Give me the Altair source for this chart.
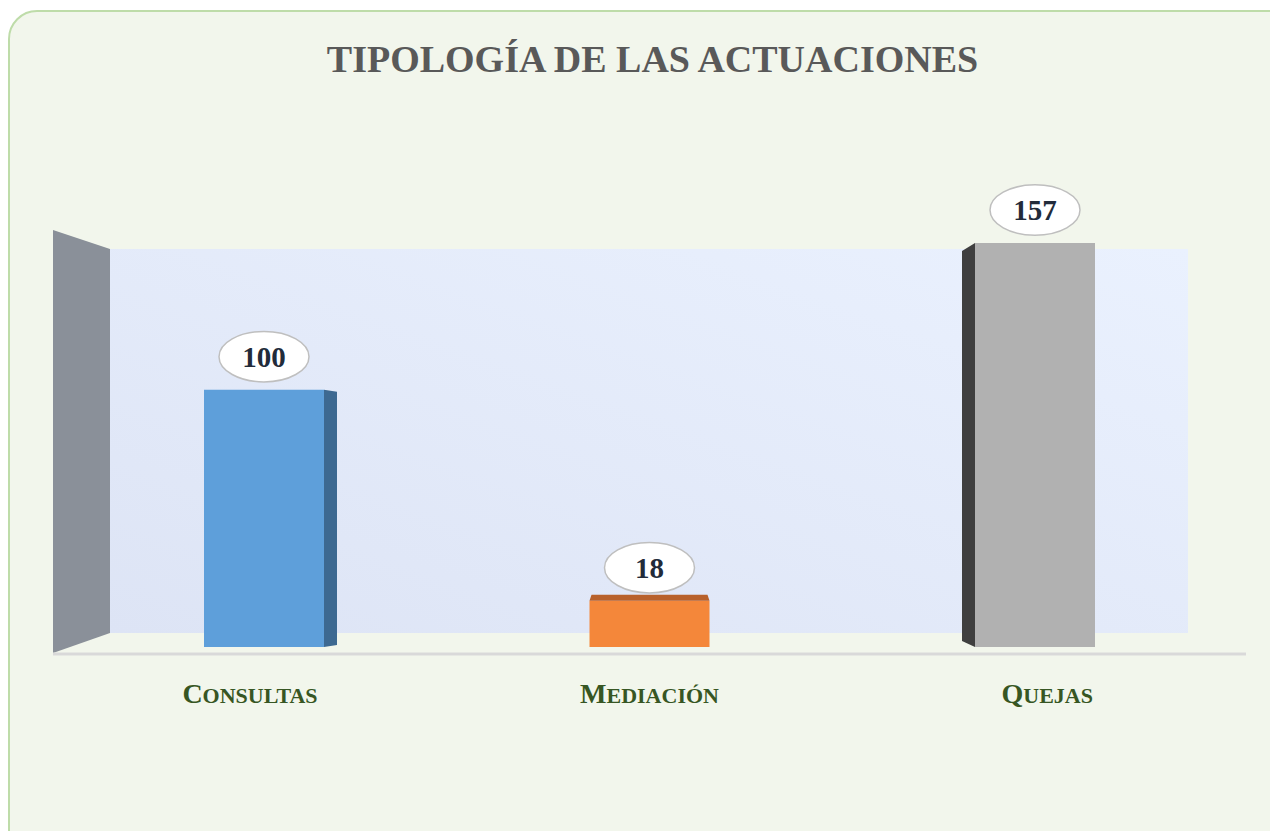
import altair as alt
import pandas as pd

# ---------------- data ----------------
categorias = ["Consultas", "Mediación", "Quejas"]
valores = [100, 18, 157]
color_frente = ["#5E9FDA", "#F4873A", "#B1B1B1"]
color_cara = ["#3D6991", "#B8612B", "#3F3F3F"]
tipo_cara = ["derecha", "superior", "izquierda"]
titulo = "TIPOLOGÍA DE LAS ACTUACIONES"

# ---------------- layout helpers ----------------
W, H = 1262, 823
XU, YU = 385.5, 2.573           # px per x unit / per value unit
X0 = -256 / XU
Y0 = -(H - 639) / YU
xs = alt.Scale(domain=[X0, X0 + W / XU], nice=False, zero=False)
ys = alt.Scale(domain=[Y0, Y0 + H / YU], nice=False, zero=False)


def ux(px):
    return X0 + px / XU


def uy(py):
    return Y0 + (H - py) / YU


HALF = 60 / XU
DEPTH = 13 / XU
SERIF = "Liberation Serif"

# bars
bars = pd.DataFrame({
    "cat": categorias,
    "idx": list(range(len(categorias))),
    "valor": valores,
    "color": color_frente,
})
bars["x0"] = bars["idx"] - HALF
bars["x1"] = bars["idx"] + HALF
bars["base"] = 0.0
bars["ylab"] = bars["valor"] + 33 / YU

# 3D faces of the bars
rows = []
for i, (c, v, col, t) in enumerate(zip(categorias, valores, color_cara, tipo_cara)):
    if t == "derecha":
        rows += [dict(cat=c, color=col, x=i + HALF, y=0.0, y2=v),
                 dict(cat=c, color=col, x=i + HALF + DEPTH, y=2 / YU, y2=v - 2 / YU)]
    elif t == "izquierda":
        rows += [dict(cat=c, color=col, x=i - HALF - DEPTH, y=6 / YU, y2=v - 8 / YU),
                 dict(cat=c, color=col, x=i - HALF, y=0.0, y2=v)]
    else:
        rows += [dict(cat=c, color=col, x=i - HALF, y=v, y2=v),
                 dict(cat=c, color=col, x=i - HALF + 2 / XU, y=v, y2=v + 6 / YU),
                 dict(cat=c, color=col, x=i + HALF - 2 / XU, y=v, y2=v + 6 / YU),
                 dict(cat=c, color=col, x=i + HALF, y=v, y2=v)]
faces = pd.DataFrame(rows)

# left wall
wall = pd.DataFrame({
    "x": [ux(45), ux(102)],
    "y": [uy(645), uy(625)],
    "y2": [uy(222), uy(241)],
})

# category labels in emulated small caps
WID = {"A": .722, "C": .722, "D": .722, "E": .667, "I": .389, "J": .5, "L": .667,
       "M": .944, "N": .722, "O": .778, "Q": .778, "S": .556, "T": .667, "U": .722,
       "Ó": .778}
BIG, SMALL = 28, 22
FACTOR = 397.7 / XU
lab_rows = []
for i, c in enumerate(categorias):
    up = c.upper()
    first, rest = up[0], up[1:]
    wb = WID.get(first, .7) * BIG
    wr = sum(WID.get(ch, .7) for ch in rest) * SMALL
    cx = 1 + (i - 1) * FACTOR
    start = cx - (wb + wr) / 2 / XU
    lab_rows.append(dict(first=first, rest=rest, xf=start, xr=start + wb / XU))
labels = pd.DataFrame(lab_rows)

one = pd.DataFrame({"k": [0]})

# ---------------- layers ----------------
border = alt.Chart(one).mark_rect(
    cornerRadius=28, fill="#F2F6EC", stroke="#BEDCA9", strokeWidth=2
).encode(x=alt.value(1), x2=alt.value(1600), y=alt.value(3), y2=alt.value(1200))

back = alt.Chart(one).mark_rect(
    color=alt.LinearGradient(
        gradient="linear",
        stops=[alt.GradientStop(color="#DDE4F5", offset=0),
               alt.GradientStop(color="#EAF1FE", offset=1)],
        x1=0, x2=1, y1=1, y2=0,
    )
).encode(x=alt.value(102), x2=alt.value(1180), y=alt.value(241), y2=alt.value(625))

wall_l = alt.Chart(wall).mark_area(color="#8A9099", opacity=1).encode(
    x=alt.X("x:Q", scale=xs, axis=None),
    y=alt.Y("y:Q", scale=ys, axis=None),
    y2="y2:Q",
)

floor = alt.Chart(one).mark_rule(color="#D9D9D9", strokeWidth=3).encode(
    x=alt.value(45), x2=alt.value(1238), y=alt.value(646)
)

front = alt.Chart(bars).mark_rect().encode(
    x=alt.X("x0:Q", scale=xs, axis=None),
    x2="x1:Q",
    y=alt.Y("valor:Q", scale=ys, axis=None),
    y2="base:Q",
    color=alt.Color("color:N", scale=None),
)

side = alt.Chart(faces).mark_area(opacity=1).encode(
    x=alt.X("x:Q", scale=xs, axis=None),
    y=alt.Y("y:Q", scale=ys, axis=None),
    y2="y2:Q",
    color=alt.Color("color:N", scale=None),
    detail="cat:N",
)

ellipse = alt.Chart(bars).mark_point(
    shape="M-1,0A1,0.56,0,1,1,1,0A1,0.56,0,1,1,-1,0Z",
    size=8100, filled=True, fill="white", stroke="#BFBFBF", strokeWidth=1.5, opacity=1,
).encode(
    x=alt.X("idx:Q", scale=xs, axis=None),
    y=alt.Y("ylab:Q", scale=ys, axis=None),
)

vtext = alt.Chart(bars).mark_text(
    font=SERIF, fontWeight="bold", fontSize=29, color="#222B3A", baseline="middle", dy=1
).encode(
    x=alt.X("idx:Q", scale=xs, axis=None),
    y=alt.Y("ylab:Q", scale=ys, axis=None),
    text="valor:Q",
)

lab_first = alt.Chart(labels).mark_text(
    font=SERIF, fontWeight="bold", fontSize=BIG, color="#375623",
    align="left", baseline="alphabetic",
).encode(x=alt.X("xf:Q", scale=xs, axis=None), y=alt.value(703 - 8), text="first:N")

lab_rest = alt.Chart(labels).mark_text(
    font=SERIF, fontWeight="bold", fontSize=SMALL, color="#375623",
    align="left", baseline="alphabetic",
).encode(x=alt.X("xr:Q", scale=xs, axis=None), y=alt.value(703 - 8), text="rest:N")

title = alt.Chart(one).mark_text(
    text=titulo, font=SERIF, fontWeight="bold", fontSize=38, color="#595959",
    align="center", baseline="alphabetic",
).encode(x=alt.value(644.5), y=alt.value(64))

chart = alt.layer(
    border, back, wall_l, floor, front, side, ellipse, vtext, lab_first, lab_rest, title
).properties(
    width=W, height=H, padding=0,
    autosize=alt.AutoSizeParams(type="none"),
).configure_view(stroke=None)

chart.save("out.html", embed_options={"renderer": "svg", "actions": False})
